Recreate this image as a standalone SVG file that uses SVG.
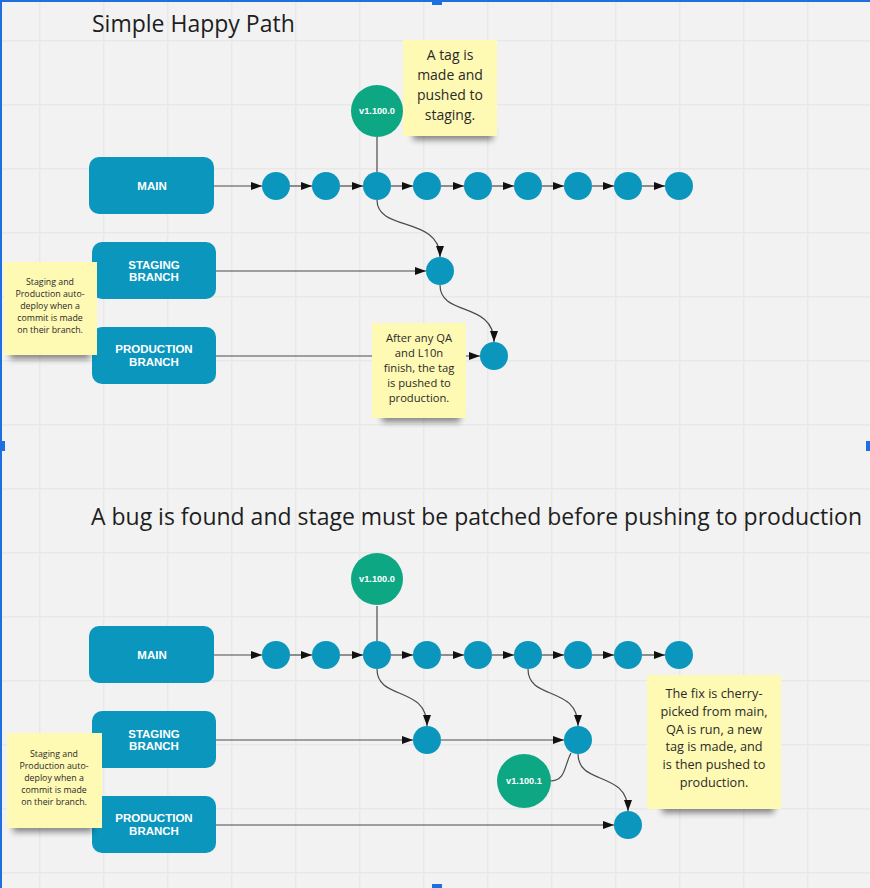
<svg xmlns="http://www.w3.org/2000/svg" width="870" height="888" viewBox="0 0 870 888">
<style>
.box{fill:#0b96be}
.lbl{font-family:"Liberation Sans",Arial,sans-serif;font-weight:bold;font-size:11.5px;fill:#fff;text-anchor:middle}
.tagc{fill:#0ea784}
.tagt{font-family:"Liberation Sans",Arial,sans-serif;font-weight:bold;font-size:9.2px;fill:#fff;text-anchor:middle}
.c{fill:#0b96be}
.ln{fill:none;stroke:#4a4a4a;stroke-width:1.2}
.arr{marker-end:url(#ah)}
.sticky{fill:#fef9b3}
.st{font-family:"Open Sans","Noto Sans",sans-serif;fill:#2a2a2a;text-anchor:middle}
.title{font-family:"Open Sans","Noto Sans",sans-serif;font-size:23px;fill:#1e1e1e}
.shadow{fill:#000;opacity:0.45;filter:url(#blur)}
.sel{fill:#1f6fe0}
</style>
<defs>
<pattern id="grid" patternUnits="userSpaceOnUse" x="39" y="40" width="64" height="64">
<rect x="0" y="0" width="64" height="64" fill="#f2f2f2"/>
<rect x="0" y="0" width="1.5" height="64" fill="#e8e8e8"/>
<rect x="0" y="0" width="64" height="1.5" fill="#e8e8e8"/>
</pattern>
<marker id="ah" markerUnits="userSpaceOnUse" markerWidth="11" markerHeight="8" refX="11" refY="4" orient="auto">
<path d="M0,0 L11,4 L0,8 z" fill="#111"/>
</marker>
<filter id="blur" x="-20%" y="-100%" width="140%" height="300%">
<feGaussianBlur stdDeviation="3"/>
</filter>
</defs>
<rect x="0" y="0" width="870" height="888" fill="url(#grid)"/>

<text class="title" x="92" y="32">Simple Happy Path</text>
<text class="title" x="91" y="525" textLength="771" lengthAdjust="spacingAndGlyphs">A bug is found and stage must be patched before pushing to production</text>

<g id="connectors">
<line class="ln arr" x1="214" y1="186" x2="262" y2="186"/>
<line class="ln arr" x1="290" y1="186" x2="312" y2="186"/>
<line class="ln arr" x1="340" y1="186" x2="363" y2="186"/>
<line class="ln arr" x1="391" y1="186" x2="413" y2="186"/>
<line class="ln arr" x1="441" y1="186" x2="464" y2="186"/>
<line class="ln arr" x1="492" y1="186" x2="514" y2="186"/>
<line class="ln arr" x1="542" y1="186" x2="564" y2="186"/>
<line class="ln arr" x1="592" y1="186" x2="614" y2="186"/>
<line class="ln arr" x1="642" y1="186" x2="665" y2="186"/>
<line class="ln" x1="377" y1="137" x2="377" y2="172"/>
<path class="ln arr" d="M377,200 C377,232 440,216 440,257"/>
<line class="ln arr" x1="216" y1="271" x2="426" y2="271"/>
<path class="ln arr" d="M440,285 C440,317 494,301 494,342"/>
<line class="ln arr" x1="216" y1="356" x2="480" y2="356"/>
<line class="ln arr" x1="214" y1="655" x2="262" y2="655"/>
<line class="ln arr" x1="290" y1="655" x2="312" y2="655"/>
<line class="ln arr" x1="340" y1="655" x2="363" y2="655"/>
<line class="ln arr" x1="391" y1="655" x2="413" y2="655"/>
<line class="ln arr" x1="441" y1="655" x2="464" y2="655"/>
<line class="ln arr" x1="492" y1="655" x2="514" y2="655"/>
<line class="ln arr" x1="542" y1="655" x2="564" y2="655"/>
<line class="ln arr" x1="592" y1="655" x2="614" y2="655"/>
<line class="ln arr" x1="642" y1="655" x2="665" y2="655"/>
<line class="ln" x1="377" y1="606" x2="377" y2="641"/>
<path class="ln arr" d="M377,669 C377,701 427,685 427,726"/>
<path class="ln arr" d="M528,669 C528,701 578,685 578,726"/>
<line class="ln arr" x1="216" y1="740" x2="413" y2="740"/>
<line class="ln arr" x1="441" y1="740" x2="564" y2="740"/>
<path class="ln arr" d="M578,754 C578,786 628,770 628,811"/>
<path class="ln" d="M550,781 C566,781 564,766 571,753"/>
<line class="ln arr" x1="216" y1="825" x2="614" y2="825"/>
</g>

<g id="top-main-branch"><rect class="box" x="89" y="157" width="125" height="57" rx="10"/><text class="lbl" x="152" y="190">MAIN</text></g>
<g id="top-staging-branch"><rect class="box" x="92" y="242" width="124" height="57" rx="10"/><text class="lbl" x="154" y="268.5">STAGING</text><text class="lbl" x="154" y="281">BRANCH</text></g>
<g id="top-production-branch"><rect class="box" x="92" y="327" width="124" height="57" rx="10"/><text class="lbl" x="154" y="353">PRODUCTION</text><text class="lbl" x="154" y="366">BRANCH</text></g>

<g id="top-commits">
<circle class="c" cx="276" cy="186" r="14"/><circle class="c" cx="326" cy="186" r="14"/><circle class="c" cx="377" cy="186" r="14"/>
<circle class="c" cx="427" cy="186" r="14"/><circle class="c" cx="478" cy="186" r="14"/><circle class="c" cx="528" cy="186" r="14"/>
<circle class="c" cx="578" cy="186" r="14"/><circle class="c" cx="628" cy="186" r="14"/><circle class="c" cx="679" cy="186" r="14"/>
</g>
<g id="top-staging-commit"><circle class="c" cx="440" cy="271" r="14"/></g>
<g id="top-production-commit"><circle class="c" cx="494" cy="356" r="14"/></g>
<g id="top-tag"><circle class="tagc" cx="377" cy="111" r="26"/><text class="tagt" x="377" y="114">v1.100.0</text></g>

<g id="top-note-tag">
<rect class="shadow" x="413" y="128" width="80" height="12"/>
<rect class="sticky" x="403" y="40" width="94" height="96"/>
<text class="st" font-size="14" x="450" y="60">A tag is</text>
<text class="st" font-size="14" x="450" y="80">made and</text>
<text class="st" font-size="14" x="450" y="100">pushed to</text>
<text class="st" font-size="14" x="450" y="120">staging.</text>
</g>
<g id="top-note-left">
<rect class="shadow" x="10" y="348" width="80" height="11"/>
<rect class="sticky" x="4" y="262" width="93" height="93"/>
<text class="st" font-size="8.8" x="50" y="285">Staging and</text>
<text class="st" font-size="8.8" x="50" y="297">Production auto-</text>
<text class="st" font-size="8.8" x="50" y="309">deploy when a</text>
<text class="st" font-size="8.8" x="50" y="321">commit is made</text>
<text class="st" font-size="8.8" x="50" y="333">on their branch.</text>
</g>
<g id="top-note-qa">
<rect class="shadow" x="382" y="411" width="78" height="11"/>
<rect class="sticky" x="372" y="323" width="94" height="95"/>
<text class="st" font-size="11.2" x="419" y="342">After any QA</text>
<text class="st" font-size="11.2" x="419" y="357">and L10n</text>
<text class="st" font-size="11.2" x="419" y="372">finish, the tag</text>
<text class="st" font-size="11.2" x="419" y="387">is pushed to</text>
<text class="st" font-size="11.2" x="419" y="402">production.</text>
</g>

<g id="bottom-main-branch"><rect class="box" x="89" y="626" width="125" height="57" rx="10"/><text class="lbl" x="152" y="659">MAIN</text></g>
<g id="bottom-staging-branch"><rect class="box" x="92" y="711" width="124" height="57" rx="10"/><text class="lbl" x="154" y="737.5">STAGING</text><text class="lbl" x="154" y="750">BRANCH</text></g>
<g id="bottom-production-branch"><rect class="box" x="92" y="796" width="124" height="57" rx="10"/><text class="lbl" x="154" y="822">PRODUCTION</text><text class="lbl" x="154" y="835">BRANCH</text></g>

<g id="bottom-commits">
<circle class="c" cx="276" cy="655" r="14"/><circle class="c" cx="326" cy="655" r="14"/><circle class="c" cx="377" cy="655" r="14"/>
<circle class="c" cx="427" cy="655" r="14"/><circle class="c" cx="478" cy="655" r="14"/><circle class="c" cx="528" cy="655" r="14"/>
<circle class="c" cx="578" cy="655" r="14"/><circle class="c" cx="628" cy="655" r="14"/><circle class="c" cx="679" cy="655" r="14"/>
</g>
<g id="bottom-staging-commits"><circle class="c" cx="427" cy="740" r="14"/><circle class="c" cx="578" cy="740" r="14"/></g>
<g id="bottom-production-commit"><circle class="c" cx="628" cy="825" r="14"/></g>
<g id="bottom-tag"><circle class="tagc" cx="377" cy="579" r="26"/><text class="tagt" x="377" y="582">v1.100.0</text></g>
<g id="bottom-tag-fix"><circle class="tagc" cx="524" cy="781" r="27"/><text class="tagt" x="524" y="784">v1.100.1</text></g>

<g id="bottom-note-left">
<rect class="shadow" x="13" y="821" width="80" height="11"/>
<rect class="sticky" x="7" y="733" width="95" height="95"/>
<text class="st" font-size="8.8" x="54" y="757">Staging and</text>
<text class="st" font-size="8.8" x="54" y="769">Production auto-</text>
<text class="st" font-size="8.8" x="54" y="781">deploy when a</text>
<text class="st" font-size="8.8" x="54" y="793">commit is made</text>
<text class="st" font-size="8.8" x="54" y="805">on their branch.</text>
</g>
<g id="bottom-note-fix">
<rect class="shadow" x="662" y="801" width="112" height="12"/>
<rect class="sticky" x="647" y="675" width="134" height="134"/>
<text class="st" font-size="12.7" x="714" y="698">The fix is cherry-</text>
<text class="st" font-size="12.7" x="714" y="716">picked from main,</text>
<text class="st" font-size="12.7" x="714" y="734">QA is run, a new</text>
<text class="st" font-size="12.7" x="714" y="751">tag is made, and</text>
<text class="st" font-size="12.7" x="714" y="769">is then pushed to</text>
<text class="st" font-size="12.7" x="714" y="787">production.</text>
</g>

<g id="selection">
<rect x="1" y="1" width="870" height="890" fill="none" stroke="#1f6fe0" stroke-width="2"/>
<rect class="sel" x="432" y="0" width="10" height="5"/>
<rect class="sel" x="0" y="441" width="5" height="10"/>
<rect class="sel" x="866" y="441" width="4" height="10"/>
<rect class="sel" x="432" y="884" width="10" height="4"/>
</g>
</svg>
